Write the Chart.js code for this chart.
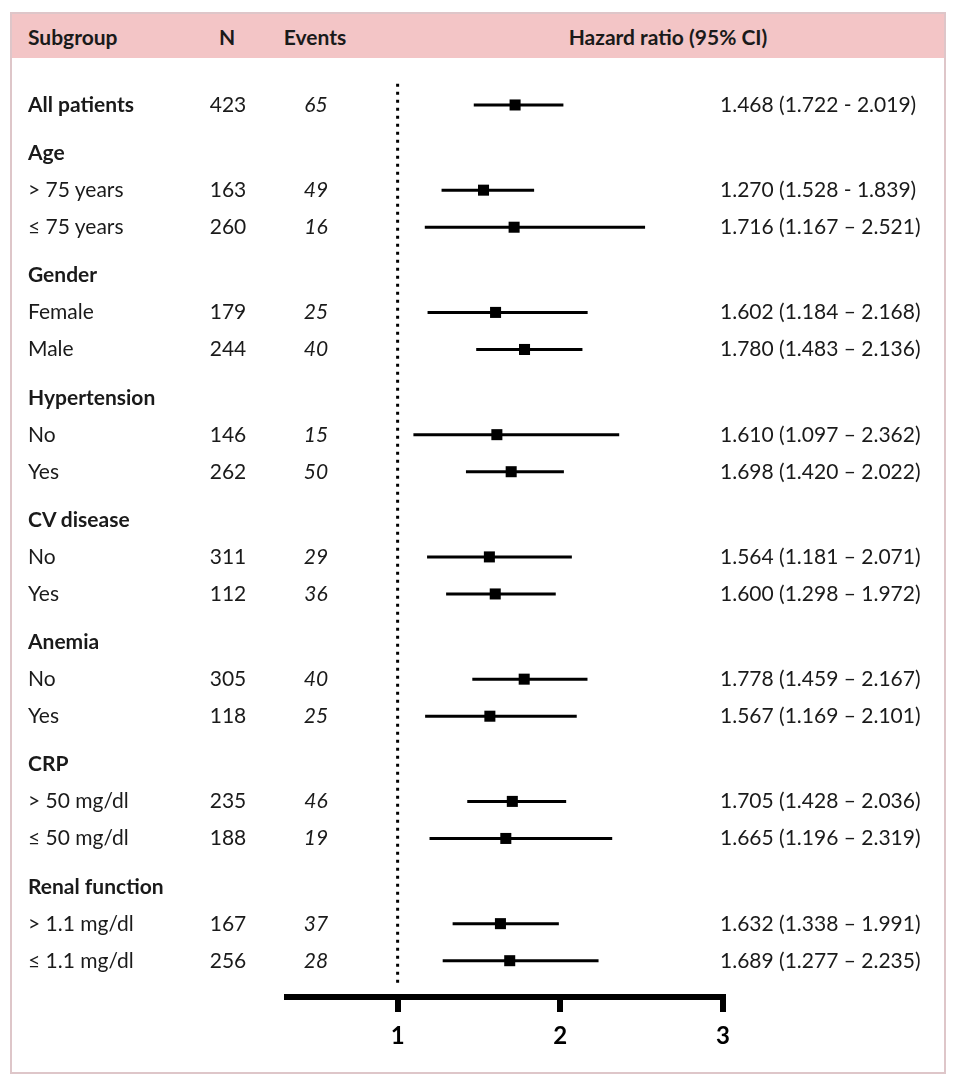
<!DOCTYPE html>
<html>
<head>
<meta charset="utf-8">
<style>
	body { margin: 0; background: #fff; font-family: Lato, "Open Sans", sans-serif; color: #1a1a1a; }
	#page { position: relative; width: 958px; height: 1086px; overflow: hidden; }
	.frame { position: absolute; left: 10px; top: 12px; width: 932px; height: 1058px; border: 2px solid #dec6c9; }
	.head { position: absolute; left: 12px; top: 14px; width: 932px; height: 44px; background: #f3c5c6; }
	.hd { position: absolute; top: 36px; font-weight: bold; font-size: 21px; white-space: nowrap; }
	#forest { position: absolute; left: 0; top: 0; }
	.t { position: absolute; font-size: 21px; white-space: nowrap; }
	.b { font-weight: bold; }
	.i { font-style: italic; }
</style>
</head>
<body>
<div id="page">
	<div class="frame"></div>
	<div class="head"></div>
	<div class="hd" style="left:28px; transform:translateY(-50%)">Subgroup</div>
	<div class="hd" style="left:227px; transform:translate(-50%,-50%)">N</div>
	<div class="hd" style="left:315px; transform:translate(-50%,-50%)">Events</div>
	<div class="hd" style="left:668px; transform:translate(-50%,-50%)">Hazard ratio (95% CI)</div>
	<canvas id="forest" width="958" height="1086"></canvas>
</div>
<script src="https://cdn.jsdelivr.net/npm/chart.js"></script>
<script>
	// first row is the whole cohort, then two rows per group
	const groups = ["Age", "Gender", "Hypertension", "CV disease", "Anemia", "CRP", "Renal function"];
	const subgroups = [
		"All patients",
		"> 75 years", "≤ 75 years",
		"Female", "Male",
		"No", "Yes",
		"No", "Yes",
		"No", "Yes",
		"> 50 mg/dl", "≤ 50 mg/dl",
		"> 1.1 mg/dl", "≤ 1.1 mg/dl",
	];
	const patients = [423, 163, 260, 179, 244, 146, 262, 311, 112, 305, 118, 235, 188, 167, 256];
	const events = [65, 49, 16, 25, 40, 15, 50, 29, 36, 40, 25, 46, 19, 37, 28];
	const hr = [1.722, 1.528, 1.716, 1.602, 1.780, 1.610, 1.698, 1.564, 1.600, 1.778, 1.567, 1.705, 1.665, 1.632, 1.689];
	const ciLow = [1.468, 1.270, 1.167, 1.184, 1.483, 1.097, 1.420, 1.181, 1.298, 1.459, 1.169, 1.428, 1.196, 1.338, 1.277];
	const ciHigh = [2.019, 1.839, 2.521, 2.168, 2.136, 2.362, 2.022, 2.071, 1.972, 2.167, 2.101, 2.036, 2.319, 1.991, 2.235];
	const hrLabels = [
		"1.468 (1.722 - 2.019)",
		"1.270 (1.528 - 1.839)",
		"1.716 (1.167 – 2.521)",
		"1.602 (1.184 – 2.168)",
		"1.780 (1.483 – 2.136)",
		"1.610 (1.097 – 2.362)",
		"1.698 (1.420 – 2.022)",
		"1.564 (1.181 – 2.071)",
		"1.600 (1.298 – 1.972)",
		"1.778 (1.459 – 2.167)",
		"1.567 (1.169 – 2.101)",
		"1.705 (1.428 – 2.036)",
		"1.665 (1.196 – 2.319)",
		"1.632 (1.338 – 1.991)",
		"1.689 (1.277 – 2.235)",
	];
	const xTicks = [1, 2, 3];

	// row positions (in row units), headers get a bit more room above
	const headerStep = 1.3;
	const itemStep = 1;
	let pos = 0;
	const rowY = [0];
	const headY = [];
	groups.forEach(() => {
		pos += headerStep;
		headY.push(pos);
		pos += itemStep;
		rowY.push(pos);
		pos += itemStep;
		rowY.push(pos);
	});
	const yMin = -0.62;
	const yMax = 24.08;

	const ciSets = subgroups.map((s, i) => ({
		data: [{ x: ciLow[i], y: rowY[i] }, { x: ciHigh[i], y: rowY[i] }],
		showLine: true,
		borderColor: "#000",
		borderWidth: 3,
		pointRadius: 0,
	}));

	const chart = new Chart(document.getElementById("forest"), {
		type: "scatter",
		data: {
			datasets: [
				{
					data: [{ x: 1, y: yMin + 0.05 }, { x: 1, y: yMax - 0.28 }],
					showLine: true,
					borderColor: "#000",
					borderWidth: 3,
					borderDash: [3, 5],
					pointRadius: 0,
				},
				...ciSets,
				{
					data: hr.map((v, i) => ({ x: v, y: rowY[i] })),
					pointStyle: "rect",
					pointRadius: 7.8,
					backgroundColor: "#000",
					borderColor: "#000",
					borderWidth: 0,
				},
			],
		},
		options: {
			responsive: false,
			animation: false,
			events: [],
			layout: { padding: { left: 287, right: 235, top: 82, bottom: 39 } },
			plugins: {
				legend: { display: false },
				tooltip: { enabled: false },
			},
			scales: {
				x: {
					type: "linear",
					min: 0.32,
					max: 3,
					grid: {
						drawOnChartArea: false,
						drawTicks: true,
						lineWidth: 6,
						tickLength: 15,
						tickWidth: 6,
						tickColor: "#000",
					},
					border: { display: true, width: 6, color: "#000" },
					ticks: {
						color: "#000",
						padding: 10,
						font: { family: "Lato", size: 24, weight: "bold" },
					},
					afterBuildTicks: (s) => {
						s.ticks = xTicks.map((v) => ({ value: v }));
					},
					afterFit: (s) => {
						s.height = 50;
					},
				},
				y: {
					type: "linear",
					reverse: true,
					min: yMin,
					max: yMax,
					display: false,
				},
			},
		},
	});

	// table text, placed on the chart's own y scale
	const page = document.getElementById("page");
	const ys = chart.scales.y;
	function addText(txt, x, v, cls, center) {
		const d = document.createElement("div");
		d.className = "t " + cls;
		d.textContent = txt;
		d.style.left = x + "px";
		d.style.top = (ys.getPixelForValue(v) - 2) + "px";
		d.style.transform = center ? "translate(-50%,-50%)" : "translateY(-50%)";
		page.appendChild(d);
	}
	groups.forEach((g, k) => addText(g, 28, headY[k], "b", false));
	subgroups.forEach((s, i) => {
		addText(s, 28, rowY[i], i === 0 ? "b" : "", false);
		addText(String(patients[i]), 228, rowY[i], "", true);
		addText(String(events[i]), 316, rowY[i], "i", true);
		addText(hrLabels[i], 720, rowY[i], "", false);
	});
</script>
</body>
</html>
